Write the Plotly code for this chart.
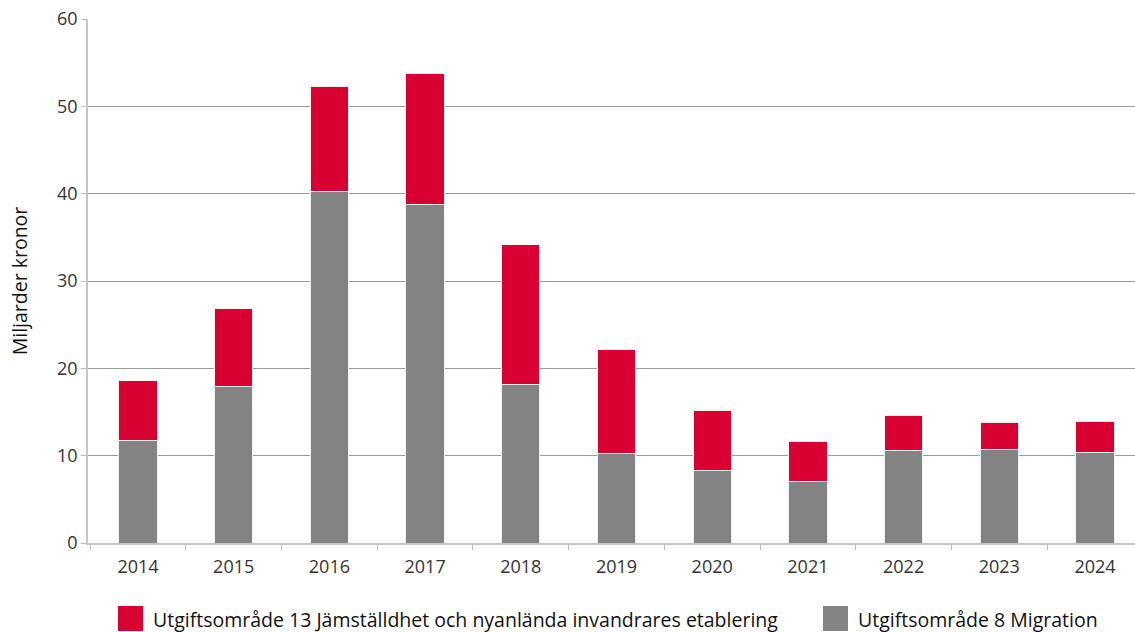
import plotly.graph_objects as go

years = ["2014", "2015", "2016", "2017", "2018", "2019", "2020", "2021", "2022", "2023", "2024"]
migration = [11.7, 17.9, 40.3, 38.8, 18.1, 10.25, 8.3, 7.05, 10.6, 10.75, 10.4]
etablering_total = [18.6, 26.8, 52.25, 53.8, 34.2, 22.1, 15.2, 11.65, 14.6, 13.85, 13.95]
etablering = [round(t - m, 2) for t, m in zip(etablering_total, migration)]

name_13 = "Utgiftsområde 13 Jämställdhet och nyanlända invandrares etablering"
name_8 = "Utgiftsområde 8 Migration"
red = "#D90032"
grey = "#838383"
font_family = "Open Sans, Noto Sans, sans-serif"

fig = go.Figure()
fig.add_trace(go.Bar(x=years, y=migration, name=name_8, marker=dict(color=grey, line=dict(color="#f0f0f0", width=1)), showlegend=False))
fig.add_trace(go.Bar(x=years, y=etablering, name=name_13, marker=dict(color=red, line=dict(color="#f0f0f0", width=1)), showlegend=False))

fig.update_layout(
    barmode="stack",
    bargap=0.6,
    width=1135, height=632,
    margin=dict(l=88, r=0, t=19, b=89),
    paper_bgcolor="white", plot_bgcolor="white",
    font=dict(family=font_family, color="#333333", size=18),
    xaxis=dict(
        type="category",
        range=[-0.5225, 10.418],
        tickson="boundaries",
        ticks="outside", ticklen=5, tickcolor="#bdbdbd", tickwidth=1,
        showline=True, linecolor="#c4c4c4", linewidth=2,
        showgrid=False,
        ticklabelstandoff=6,
        tickfont=dict(size=18, color="#333333"),
    ),
    yaxis=dict(
        range=[0, 60], dtick=10,
        ticks="outside", ticklen=5, tickcolor="#bdbdbd", tickwidth=1,
        showline=True, linecolor="#c4c4c4", linewidth=1.5,
        showgrid=True, gridcolor="#9a9a9a", gridwidth=1,
        zeroline=False,
        tickfont=dict(size=18, color="#333333"),
        title=dict(text="Miljarder kronor", font=dict(size=19.5, color="#111111"), standoff=24),
    ),
)

# custom legend
legend_items = [(name_13, red, 118), (name_8, grey, 823)]
for label, color, px in legend_items:
    x0 = (px - 88) / 1047
    fig.add_shape(type="rect", xref="paper", yref="paper",
                  x0=x0, x1=x0 + 25 / 1047, y0=-(606 - 543) / 524, y1=-(631 - 543) / 524,
                  fillcolor=color, line=dict(width=0))
    fig.add_annotation(xref="paper", yref="paper", x=x0 + 33 / 1047, y=-(619 - 543) / 524,
                       text=label, showarrow=False, xanchor="left", yanchor="middle",
                       font=dict(size=19.5, color="#111111", family=font_family))

fig.write_html("out.html")
